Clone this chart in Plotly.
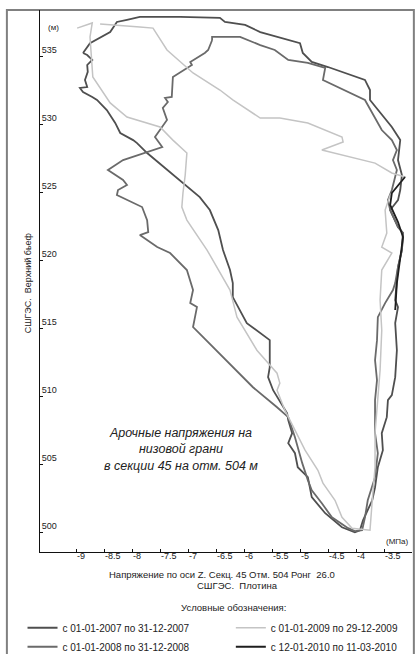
import plotly.graph_objects as go

# Stress along Z axis (MPa) vs upstream water level (m), one loop per period
stress_2007 = [-8.875, -8.75, -8.39, -8.27, -8.09, -7.86, -7.14, -6.43, -6.34, -5.98, -5.71, -5.36, -5.00, -4.95,
               -4.79, -4.50, -3.84, -3.75, -3.75, -3.36, -3.21, -3.25, -3.18, -3.21, -3.25, -3.39, -3.25, -3.16,
               -3.18, -3.25, -3.27, -3.30, -3.25, -3.30, -3.27, -3.30, -3.36, -3.43, -3.45, -3.54, -3.52, -3.61,
               -3.66, -3.71, -3.875, -3.93, -4.02, -4.25, -4.55, -4.79, -4.86, -5.04, -5.09, -5.21, -5.14, -5.21,
               -5.23, -5.48, -5.57, -5.54, -5.54, -5.95, -6.20, -6.20, -6.25, -6.375, -6.46, -6.61, -6.79, -7.375,
               -7.73, -7.91, -7.98, -8.21, -8.30, -8.45, -8.625, -8.71, -8.875, -8.93, -8.80, -8.84, -8.79, -8.80,
               -8.71, -8.80, -8.875]
level_2007 = [535.27, 535.99, 536.81, 537.55, 537.71, 537.93, 537.93, 537.85, 537.55, 537.33, 536.81, 536.38,
              535.99, 535.27, 534.61, 534.24, 533.29, 532.55, 531.82, 529.83, 528.87, 527.40, 526.30, 525.20,
              524.46, 523.73, 522.48, 522.04, 520.79, 519.54, 518.36, 517.11, 516.60, 515.42, 513.43, 511.45,
              510.13, 509.76, 508.51, 507.33, 506.08, 504.83, 503.36, 502.40, 500.93, 500.20, 500.05, 500.42,
              501.45, 502.63, 504.10, 504.83, 505.86, 506.60, 507.33, 508.29, 508.80, 510.49, 511.45, 512.18,
              514.17, 515.42, 517.33, 518.36, 519.32, 520.79, 522.26, 523.73, 524.68, 526.67, 527.92, 528.65,
              528.87, 529.39, 530.13, 531.08, 531.82, 532.04, 532.40, 532.70, 532.77, 533.29, 533.88, 534.39,
              534.76, 535.12, 535.27]

stress_2008 = [-6.57, -6.64, -6.70, -6.96, -6.93, -7.27, -7.29, -7.41, -7.36, -7.45, -7.375, -7.55, -7.59, -7.46,
               -7.80, -8.16, -8.43, -8.16, -8.09, -8.25, -8.27, -7.82, -7.73, -7.71, -7.86, -7.55, -7.32, -7.02,
               -6.91, -6.96, -6.84, -6.91, -6.73, -6.375, -5.84, -5.41, -5.21, -5.09, -4.96, -4.86, -4.79, -4.61,
               -4.43, -4.14, -4.02, -3.89, -3.84, -3.79, -3.71, -3.66, -3.61, -3.66, -3.66, -3.625, -3.66, -3.625,
               -3.61, -3.48, -3.34, -3.30, -3.25, -3.18, -3.16, -3.25, -3.39, -3.43, -3.36, -3.27, -3.34, -3.27,
               -3.36, -3.54, -3.84, -4.59, -4.55, -4.86, -5.21, -5.45, -5.71, -6.07, -6.57, -6.57]
level_2008 = [536.21, 535.49, 535.27, 534.61, 534.39, 533.51, 532.04, 531.97, 531.67, 531.23, 530.35, 529.39,
              529.10, 528.36, 527.92, 527.40, 526.67, 525.94, 525.57, 525.20, 524.83, 523.95, 522.99, 522.11,
              521.89, 521.01, 520.57, 519.32, 517.85, 516.89, 516.60, 515.13, 514.39, 512.92, 510.71, 509.24,
              508.51, 507.04, 505.13, 503.88, 503.14, 502.18, 501.15, 500.35, 500.13, 500.20, 501.15, 502.40,
              503.36, 504.10, 505.86, 507.33, 509.76, 511.23, 512.70, 514.17, 515.86, 516.89, 517.85, 518.36,
              519.54, 520.79, 522.04, 522.48, 523.73, 524.46, 525.20, 526.67, 527.40, 528.14, 528.87, 529.61,
              531.82, 533.29, 534.17, 534.54, 534.76, 535.49, 535.85, 536.45, 536.45, 536.21]

stress_2009 = [-8.98, -8.71, -8.75, -8.70, -8.39, -8.09, -7.50, -7.27, -7.02, -7.05, -7.09, -7.11, -7.02, -6.66,
               -6.25, -6.125, -5.77, -5.41, -5.36, -5.41, -5.27, -5.09, -4.91, -4.68, -4.59, -4.375, -4.25, -4.07,
               -3.75, -3.71, -3.66, -3.66, -3.61, -3.57, -3.54, -3.57, -3.54, -3.36, -3.54, -3.45, -3.48, -3.39,
               -3.125, -3.36, -3.66, -4.43, -4.61, -4.23, -4.25, -4.86, -5.36, -5.71, -6.20, -6.43, -6.91, -7.375,
               -7.625, -7.86, -8.57]
level_2009 = [537.10, 537.48, 536.45, 533.51, 531.60, 530.57, 529.83, 528.87, 527.92, 526.30, 524.98, 523.95,
              522.99, 520.79, 517.85, 515.86, 513.43, 511.74, 511.01, 510.49, 509.02, 507.55, 506.08, 504.61,
              503.66, 502.40, 501.15, 500.35, 500.20, 502.40, 504.83, 507.33, 509.76, 511.96, 514.90, 517.11,
              519.32, 520.57, 521.01, 522.04, 523.73, 524.83, 526.16, 526.45, 527.18, 527.92, 528.14, 528.73,
              529.10, 530.13, 530.49, 530.49, 531.82, 532.55, 533.80, 535.49, 537.10, 537.18, 537.40]

stress_2010 = [-3.125, -3.36, -3.39, -3.25, -3.16, -3.21, -3.27, -3.30]
level_2010 = [526.16, 524.98, 524.10, 522.85, 521.74, 520.05, 518.36, 516.38]

series_names = ["с 01-01-2007 по 31-12-2007", "с 01-01-2008 по 31-12-2008",
                "с 01-01-2009 по 29-12-2009", "с 12-01-2010 по 11-03-2010"]

x_ticks = [-9, -8.5, -8, -7.5, -7, -6.5, -6, -5.5, -5, -4.5, -4, -3.5]
x_tick_text = ["-9", "-8.5", "-8", "-7.5", "-7", "-6.5", "-6", "-5.5", "-5", "-4.5", "-4", "-3.5"]
y_ticks = [500, 505, 510, 515, 520, 525, 530, 535]

FONT = "Liberation Sans"
TEXT = "#222222"

fig = go.Figure()
fig.add_trace(go.Scatter(x=stress_2007, y=level_2007, mode="lines", name=series_names[0],
                         line=dict(color="#4f4f4f", width=1.8), legend="legend"))
fig.add_trace(go.Scatter(x=stress_2008, y=level_2008, mode="lines", name=series_names[1],
                         line=dict(color="#6a6a6a", width=1.8), legend="legend"))
fig.add_trace(go.Scatter(x=stress_2009, y=level_2009, mode="lines", name=series_names[2],
                         line=dict(color="#c4c4c4", width=1.5), legend="legend2"))
fig.add_trace(go.Scatter(x=stress_2010, y=level_2010, mode="lines", name=series_names[3],
                         line=dict(color="#1e1e1e", width=1.8), legend="legend2"))

legend_style = dict(orientation="v", yanchor="top", xanchor="left", bgcolor="rgba(0,0,0,0)",
                    font=dict(family=FONT, size=10, color=TEXT), tracegroupgap=0, itemwidth=30)


def label(text, x, y, size=9.5, angle=0):
    return dict(text=text, x=x, y=y, xref="paper", yref="paper", xanchor="center", yanchor="middle",
                showarrow=False, textangle=angle, align="center", font=dict(size=size, color=TEXT))


fig.update_layout(
    width=415, height=654,
    margin=dict(l=40, r=3, t=10, b=102, autoexpand=False),
    paper_bgcolor="white", plot_bgcolor="white",
    font=dict(family=FONT, size=9, color=TEXT),
    legend=dict(x=-0.047, y=-0.113, **legend_style),
    legend2=dict(x=0.513, y=-0.113, **legend_style),
    xaxis=dict(range=[-9.643, -3.0], tickmode="array", tickvals=x_ticks, ticktext=x_tick_text,
               showgrid=False, zeroline=False, showline=True, linecolor="#111", linewidth=1,
               ticks="inside", ticklen=3, tickcolor="#111", ticklabelposition="outside right",
               ticklabelstandoff=-5, tickfont=dict(family=FONT, size=9, color=TEXT)),
    yaxis=dict(range=[498.6, 538.43], tickmode="array", tickvals=y_ticks,
               showgrid=False, zeroline=False, showline=True, linecolor="#111", linewidth=1,
               ticks="inside", ticklen=3, tickcolor="#111", ticklabelposition="inside top",
               tickfont=dict(family=FONT, size=9, color=TEXT)),
    shapes=[dict(type="rect", xref="paper", yref="paper", x0=-0.089, x1=1.005, y0=-0.25, y1=1.0,
                 line=dict(color="#808080", width=2), fillcolor="rgba(0,0,0,0)", layer="below")],
    annotations=[
        label("(м)", 0.035, 0.967, size=8),
        label("(МПа)", 0.96, 0.02, size=8),
        label("СШГЭС.  Верхний бьеф", -0.032, 0.496, size=9, angle=-90),
        label("<i>Арочные напряжения на<br>низовой грани<br>в секции 45 на отм. 504 м</i>",
              0.379, 0.19, size=12.5),
        label("Напряжение по оси Z. Секц. 45 Отм. 504 Ронг  26.0", 0.489, -0.0406),
        label("СШГЭС.  Плотина", 0.53, -0.0609),
        label("Условные обозначения:", 0.52, -0.1015),
    ],
)

fig.write_html("out.html")
